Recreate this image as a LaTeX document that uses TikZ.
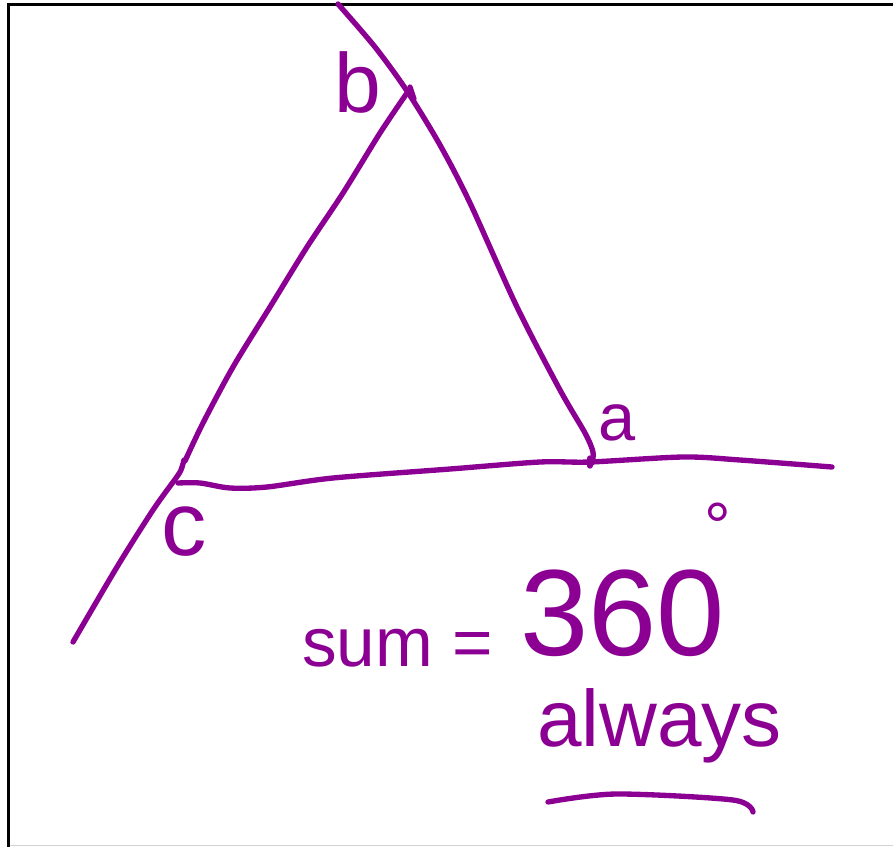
\documentclass[tikz,border=0pt]{standalone}
\usepackage{fontspec}
\setmainfont{Liberation Sans}
\definecolor{penc}{RGB}{139,0,147}
\begin{document}
\begin{tikzpicture}[x=0.75pt,y=-0.75pt,
  pen/.style={draw=penc, line width=4pt, line cap=round, line join=round},
  lbl/.style={text=penc, inner sep=0pt, anchor=base west}]
\useasboundingbox (0,0) rectangle (893,847);
% frame
\draw[line width=2pt] (893,4.5) -- (8.5,4.5) -- (8.5,847);
\draw[gray!35, line width=1.2pt] (9.5,845.5) -- (893,845.5);
% vertices
\coordinate (A) at (592,462);
\coordinate (B) at (407,91);
\coordinate (C) at (183,463);
% right side through b down to a
\draw[pen] plot[smooth] coordinates {(338,4) (375,47) (407,91) (440,145) (470,203) (517,307) (560,390) (585,433) (593,452) (592,463)};
\draw[pen] (410,87) -- (414,99);
% left side from b to c
\draw[pen] plot[smooth] coordinates {(407,93) (380,133) (343,193) (307,247) (270,307) (233,367) (203,423) (185,461)};
% extension below c
\draw[pen] plot[smooth] coordinates {(184,460) (181,470) (176,478) (153,510) (117,567) (73,642)};
% base line
\draw[pen] plot[smooth] coordinates {(178,483) (200,483) (230,488) (267,487) (333,478) (450,469) (540,462) (590,462) (683,457) (740,460) (832,467)};
\draw[pen] (590,458) -- (590,466);
% labels
\node[lbl, font=\fontsize{63}{63}\selectfont] (lb) at (334,112) {b};
\node[lbl, font=\fontsize{50}{50}\selectfont] (la) at (598,440) {a};
\node[lbl, font=\fontsize{68}{68}\selectfont] (lc) at (161,555) {c};
\node[lbl, font=\fontsize{52}{52}\selectfont] (sum) at (302,666) {sum =};
\node[lbl, font=\fontsize{92}{92}\selectfont] (num) at (520,655) {360\kern-15pt\raisebox{79pt}{\fontsize{50}{50}\selectfont °}};
\node[lbl, font=\fontsize{60}{60}\selectfont] (alw) at (537,746) {always};
% underline
\draw[pen] plot[smooth] coordinates {(548,802) (616,794) (733,800) (753,812)};
\end{tikzpicture}
\end{document}
